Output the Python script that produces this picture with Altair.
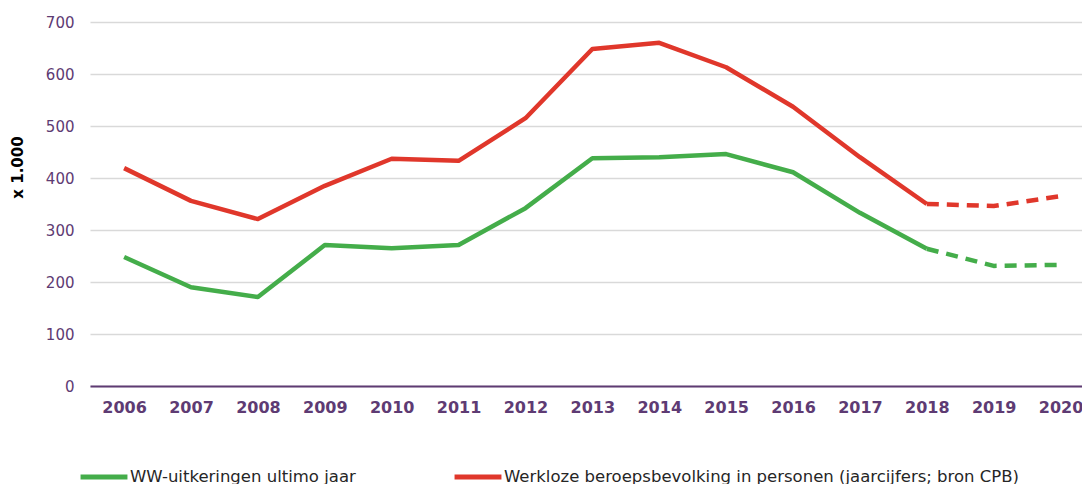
import altair as alt
import pandas as pd

years = list(range(2006, 2021))
ww = [248, 190, 171, 271, 265, 271, 342, 438, 440, 446, 411, 333, 264, 231, 233]
werkloos = [419, 356, 321, 385, 437, 433, 515, 648, 660, 613, 537, 440, 350, 346, 365]
series_names = ["WW-uitkeringen ultimo jaar",
                "Werkloze beroepsbevolking in personen (jaarcijfers; bron CPB)"]
colors = ["#44AD4A", "#E0372B"]
y_ticks = [0, 100, 200, 300, 400, 500, 600, 700]
last_actual = 2018

rows = []
for name, vals in zip(series_names, [ww, werkloos]):
    for yr, v in zip(years, vals):
        rows.append({"jaar": yr, "serie": name, "waarde": v})
df = pd.DataFrame(rows)

purple = "#5E3B73"
font = "DejaVu Sans"

x_enc = alt.X("jaar:Q",
              scale=alt.Scale(domain=[2005.49, 2020.32], nice=False, zero=False),
              axis=alt.Axis(values=years, format="d", title=None, grid=False,
                            ticks=False, labelFlush=False, labelOverlap=False,
                            labelFont=font, labelFontSize=16, labelFontWeight="bold",
                            labelColor=purple, labelPadding=13,
                            domainColor=purple, domainWidth=2))
y_enc = alt.Y("waarde:Q",
              scale=alt.Scale(domain=[0, 700], nice=False),
              axis=alt.Axis(values=y_ticks, title="x 1.000", grid=True,
                            gridColor="#D9D9D9", gridWidth=1.5,
                            ticks=False, domain=False,
                            labelFont=font, labelFontSize=15, labelColor=purple,
                            labelPadding=16,
                            titleFont=font, titleFontSize=15, titleFontWeight="bold",
                            titleColor="#000000", titleAngle=270,
                            titleX=-73, titleY=145, titleAlign="center",
                            titleBaseline="middle"))
color_enc = alt.Color("serie:N",
                      scale=alt.Scale(domain=series_names, range=colors),
                      legend=alt.Legend(title=None, orient="none", direction="horizontal",
                                        legendX=-12, legendY=429,
                                        symbolType="stroke", symbolSize=2200,
                                        symbolStrokeWidth=5,
                                        labelFont=font, labelFontSize=16.5,
                                        labelColor="#262626", labelOffset=0,
                                        columnPadding=88, labelLimit=700))

base = alt.Chart(df)
solid = base.transform_filter(alt.datum.jaar <= last_actual).mark_line(
    strokeWidth=4.5, strokeJoin="round").encode(x=x_enc, y=y_enc, color=color_enc)
dashed = base.transform_filter(alt.datum.jaar >= last_actual).mark_line(
    strokeWidth=4.5, strokeDash=[12, 8], strokeJoin="round").encode(
    x=x_enc, y=y_enc, color=alt.Color("serie:N",
                                      scale=alt.Scale(domain=series_names, range=colors),
                                      legend=None))

chart = alt.layer(solid, dashed).properties(
    width=992, height=364,
    autosize=alt.AutoSizeParams(type="none"),
    padding={"left": 82, "top": 14, "right": 0, "bottom": 100},
    background="#FFFFFF",
).configure_view(stroke=None)

chart.save("out.html", embed_options={"renderer": "svg", "actions": False})
